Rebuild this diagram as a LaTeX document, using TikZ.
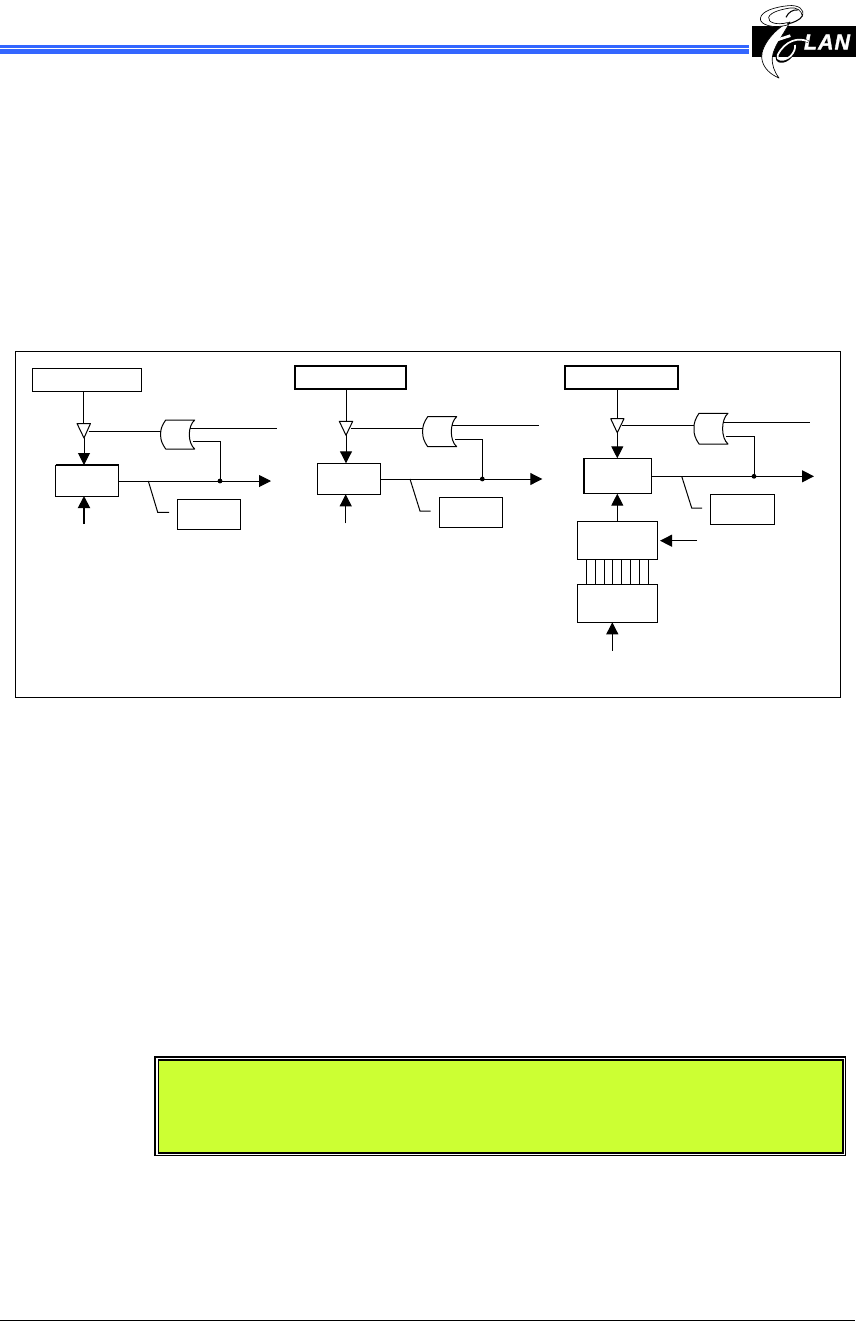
\documentclass[tikz,border=0pt]{standalone}
\usepackage{fontspec}
\setsansfont{Liberation Sans}
\usetikzlibrary{arrows.meta}
\definecolor{barblue}{HTML}{3366FF}
\definecolor{noteyellow}{HTML}{CCFF33}
\tikzset{
  wire/.style={line width=0.75pt,black},
  arr/.style={wire,-{Triangle[length=9pt,width=9pt]}},
  gatebody/.style={line width=0.75pt,fill=white,line join=round},
  boxn/.style={draw,line width=0.75pt,fill=white,inner sep=0pt,outer sep=0pt},
  boxthick/.style={boxn,line width=1.5pt},
  dot/.style={circle,fill=black,inner sep=0pt,minimum size=3.6pt},
  logoline/.style={line width=0.5pt,draw=black,fill=white,line join=round},
}
% \bx[style]{name}{x1}{y1}{x2}{y2}
\newcommand{\bx}[6][boxn]{%
  \pgfmathsetmacro{\bxw}{(#5-#3)*0.75}\pgfmathsetmacro{\bxh}{(#6-#4)*0.75}%
  \pgfmathsetmacro{\bxcx}{(#3+#5)/2}\pgfmathsetmacro{\bxcy}{(#4+#6)/2}%
  \node[#1,minimum width=\bxw pt,minimum height=\bxh pt] (#2) at (\bxcx,\bxcy) {};}
% \gatepath{x of left bulge}{top}{bottom}
\newcommand{\gatepath}[3]{%
  \pgfmathsetmacro{\gmid}{(#2+#3)/2}%
  \pgfmathsetmacro{\ga}{#1+5}\pgfmathsetmacro{\gb}{#1+34}\pgfmathsetmacro{\gc}{#1+26.8}%
  \draw[gatebody] (\ga,#2) -- (\gb,#2) .. controls (\gc,#2+6) and (\gc,#3-6) .. (\gb,#3)
    -- (\ga,#3) .. controls (#1+1.5,#3-5) and (#1-0.5,\gmid+5) .. (#1,\gmid)
    .. controls (#1-0.5,\gmid-5) and (#1+1.5,#2+5) .. (\ga,#2) -- cycle;}
\begin{document}
\begin{tikzpicture}[x=0.75pt,y=-0.75pt]
\useasboundingbox[fill=white] (0,0) rectangle (865,1321);
% header bar
\fill[barblue] (0,45) rectangle (749,54.3);
\fill[white] (0,48) rectangle (749,49.3);
% logo
\node[fill=black,inner sep=0pt,outer sep=0pt,minimum width=78.5pt,minimum height=23pt] (logobar) at (804,41.2) {};
\node[text=white,font=\sffamily\bfseries\itshape\fontsize{16}{16}\selectfont,inner sep=0pt] (logotext) at (827,42) {\addfontfeature{LetterSpace=5,FakeBold=1.5}LAN};
\begin{scope}[shift={(745,0)},x=0.25pt,y=-0.25pt]
  % body swoosh
  \draw[logoline] (135,66) .. controls (95,80) and (48,135) .. (50,172) .. controls (52,205) and (80,225) .. (102,234)
     .. controls (88,215) and (80,195) .. (82,172) .. controls (85,140) and (115,105) .. (135,66) -- cycle;
  % upper loop
  \draw[logoline] (172,48) .. controls (180,28) and (160,14) .. (130,17) .. controls (90,21) and (48,33) .. (46,56)
     .. controls (45,74) and (85,88) .. (130,74) -- (127,68) .. controls (95,76) and (68,68) .. (71,52)
     .. controls (76,36) and (110,28) .. (135,24) .. controls (155,21) and (170,32) .. (172,48) -- cycle;
  \draw[line width=0.8pt] (172,48) .. controls (165,60) and (145,68) .. (128,72);
  \draw[line width=0.8pt] (123,52) .. controls (130,36) and (145,28) .. (158,30);
  % lower loop
  \draw[line width=1.9pt] (190,125) .. controls (160,110) and (120,122) .. (98,165) .. controls (88,188) and (118,192) .. (137,170) .. controls (147,157) and (152,145) .. (150,135);
  \draw[line width=1.3pt,white] (190,125) .. controls (160,110) and (120,122) .. (98,165) .. controls (92,182) and (116,186) .. (137,168) .. controls (147,157) and (152,145) .. (150,135);
  % middle bar
  \draw[line width=2pt,white] (84,124) -- (136,107);
\end{scope}
% outer frame
\bx{frame}{15}{351}{840}{697}
%%%% panel 1
\bx{ta}{32.5}{368.5}{141.5}{391.5}
\bx[boxn]{ba}{55.5}{465}{118.5}{496}
\bx{la}{177.5}{499}{240.5}{529}
\draw[line width=1.5pt] (ba.north west) -- (ba.north east);
\gatepath{160.7}{420}{449}
\coordinate (ga-in) at (160.7,431);
\coordinate (ga-o1) at (190,428);
\coordinate (ga-o2) at (192.5,441);
\coordinate (ea1) at (277,428);
\coordinate (bua) at (83.8,423.5);
\coordinate (bua-a) at (84,438);
\coordinate (bua-s) at (88.5,431);
\draw[wire] (ta.south -| bua) -- (bua);
\draw[wire,fill=white,line join=round] (77,423.5) -- (90.5,423.5) -- (bua-a) -- cycle;
\draw[wire] (bua-s) -- (ga-in);
\draw[arr] (bua-a) -- (ba.north -| bua-a);
\coordinate (ia) at (84,524);
\draw[arr,line width=1.4pt] (ia) -- (ba.south -| ia);
\coordinate (oa) at (271,481);
\draw[arr] (ba.east |- oa) -- (oa);
\node[dot] (da) at (220,481) {};
\draw[wire] (ga-o1) -- (ea1);
\draw[wire] (da.center) |- (ga-o2);
\draw[wire] (148.3,481) -- (157.7,512.3) -- (169,512.3);
%%%% panel 2
\bx[boxthick]{tb}{294.7}{365.7}{405.7}{389}
\bx{bb}{317.3}{463.3}{380.7}{494.3}
\bx{lb}{439.3}{497.3}{502.3}{527.3}
\gatepath{422.7}{416.7}{446.7}
\coordinate (gb-in) at (422.7,428.3);
\coordinate (gb-o1) at (452,425.7);
\coordinate (gb-o2) at (454.5,439);
\coordinate (eb1) at (539,425.7);
\coordinate (bub) at (346.3,421.3);
\coordinate (bub-a) at (346,435.3);
\coordinate (bub-s) at (350.5,428.3);
\draw[wire] (tb.south -| bub) -- (bub);
\draw[wire,fill=white,line join=round] (339.3,421.3) -- (352.7,421.3) -- (bub-a) -- cycle;
\draw[wire] (bub-s) -- (gb-in);
\draw[arr] (bub-a) -- (bb.north -| bub-a);
\coordinate (ib) at (345.7,523.3);
\draw[arr] (ib) -- (bb.south -| ib);
\coordinate (ob) at (542.3,479);
\draw[arr] (bb.east |- ob) -- (ob);
\node[dot] (db) at (482.3,479) {};
\draw[wire] (gb-o1) -- (eb1);
\draw[wire] (db.center) |- (gb-o2);
\draw[wire] (410,479) -- (420,511) -- (430.7,511);
%%%% panel 3
\bx[boxthick]{tc}{565.3}{365.7}{677.7}{389}
\bx{bc}{583.7}{458.3}{651.3}{493.7}
\bx{lc}{710.7}{494.3}{774.3}{524.3}
\bx{mc}{577.7}{521.3}{657.7}{559.3}
\bx{nc}{577.7}{584.3}{657.7}{622.3}
\draw[line width=1.5pt] (bc.north west) -- (bc.south west);
\gatepath{694}{413.3}{444}
\coordinate (gc-in) at (694,425.3);
\coordinate (gc-o1) at (723.5,422);
\coordinate (gc-o2) at (726,436);
\coordinate (ec1) at (810,422);
\coordinate (buc) at (617.7,418.7);
\coordinate (buc-a) at (617.3,432.7);
\coordinate (buc-s) at (621.8,425.3);
\draw[wire] (tc.south -| buc) -- (buc);
\draw[wire,fill=white,line join=round] (610.7,418.7) -- (624,418.7) -- (buc-a) -- cycle;
\draw[wire] (buc-s) -- (gc-in);
\draw[arr] (buc-a) -- (bc.north -| buc-a);
\draw[arr] (mc.north -| buc-a) -- (bc.south -| buc-a);
\coordinate (ic) at (612.3,650.7);
\draw[arr] (ic) -- (nc.south -| ic);
\coordinate (hc) at (697,540.7);
\coordinate (hc-t) at (660,540.7);
\draw[arr] (hc) -- (hc-t);
\coordinate (oc) at (814,476.3);
\draw[arr] (bc.east |- oc) -- (oc);
\node[dot] (dc) at (754,476.3) {};
\draw[wire] (gc-o1) -- (ec1);
\draw[wire] (dc.center) |- (gc-o2);
\draw[wire] (681.7,476.3) -- (691.7,508) -- (702,508);
\foreach \i in {0,...,7}{
  \coordinate (pc\i) at ({586.3+8.87*\i},570);
  \draw[wire] (mc.south -| pc\i) -- (nc.north -| pc\i);
}
% note box
\fill[noteyellow] (158,1060) rectangle (843,1153);
\draw[line width=1.4pt] (155,1057) rectangle (845.5,1155.5);
\draw[line width=1pt] (158.2,1060) rectangle (843,1153);
\draw[line width=1pt] (0,1320.3) -- (855,1320.3);
\end{tikzpicture}
\end{document}
